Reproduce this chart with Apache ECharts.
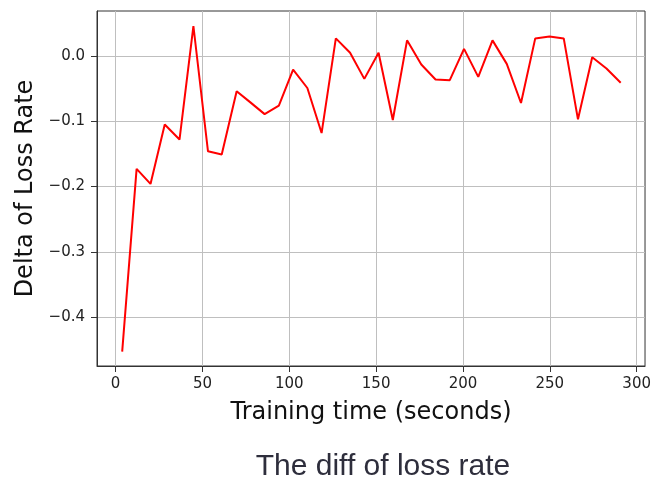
<!DOCTYPE html>
<html>
<head>
<meta charset="utf-8">
<script src="https://cdn.jsdelivr.net/npm/echarts@6/dist/echarts.min.js"></script>
<style>
  html, body { margin: 0; padding: 0; background: #ffffff; }
  #chart { width: 654px; height: 480px; }
</style>
</head>
<body>
<div id="chart"></div>
<script>
// Training time (seconds) at each sample
const trainingTime = [
  3.8, 12.1, 20.1, 28.3, 36.8, 44.8, 53.2, 61.1, 69.7, 77.6,
  85.8, 94.0, 102.2, 110.4, 118.6, 126.8, 135.0, 143.2, 151.4, 159.6,
  167.8, 176.0, 184.2, 192.4, 200.6, 208.8, 217.0, 225.2, 233.4, 241.6,
  249.8, 258.0, 266.2, 274.4, 282.6, 290.8
];
// Delta of loss rate at each sample
const lossDelta = [
  -0.453, -0.173, -0.196, -0.105, -0.128, 0.046, -0.146, -0.151, -0.054, -0.071,
  -0.089, -0.076, -0.021, -0.049, -0.118, 0.027, 0.005, -0.035, 0.005, -0.098,
  0.024, -0.013, -0.036, -0.037, 0.011, -0.032, 0.024, -0.012, -0.072, 0.027,
  0.030, 0.027, -0.097, -0.002, -0.019, -0.041
];
// Tick positions
const xTicks = [0, 50, 100, 150, 200, 250, 300];
const yTicks = [-0.4, -0.3, -0.2, -0.1, 0.0];

const points = trainingTime.map((t, i) => [t, lossDelta[i]]);

const fmtY = v => {
  const r = Math.round(v * 10) / 10;
  return (r < 0 ? '\u2212' : '') + Math.abs(r).toFixed(1);
};

const chart = echarts.init(document.getElementById('chart'), null, { renderer: 'canvas' });
chart.setOption({
  animation: false,
  backgroundColor: '#ffffff',
  title: {
    text: 'The diff of loss rate',
    left: 378,
    textAlign: 'center',
    top: 447,
    textStyle: {
      fontFamily: 'Liberation Sans',
      fontSize: 30,
      fontWeight: 'normal',
      color: '#2e2e3c'
    }
  },
  grid: {
    left: 97, right: 8, top: 11, bottom: 114,
    show: true,
    borderColor: '#333333',
    borderWidth: 1,
    containLabel: false
  },
  xAxis: {
    type: 'value',
    min: -10.7,
    max: 304.8,
    name: 'Training time (seconds)',
    nameLocation: 'middle',
    nameGap: 35,
    nameTextStyle: { fontFamily: 'DejaVu Sans', fontSize: 24, color: '#111111', lineHeight: 24 },
    axisLine: { show: true, onZero: false, lineStyle: { color: '#333333', width: 1 } },
    axisTick: { show: true, inside: false, length: 6, customValues: xTicks, lineStyle: { color: '#333333', width: 1 } },
    axisLabel: {
      customValues: xTicks,
      margin: 11,
      fontFamily: 'DejaVu Sans',
      fontSize: 15,
      color: '#222222'
    },
    splitLine: { show: true, lineStyle: { color: '#bfbfbf', width: 1 } }
  },
  yAxis: {
    type: 'value',
    min: -0.475,
    max: 0.069,
    splitNumber: 5,
    name: 'Delta of Loss Rate',
    nameLocation: 'middle',
    nameGap: 56,
    nameTextStyle: { fontFamily: 'DejaVu Sans', fontSize: 24, color: '#111111', lineHeight: 24 },
    axisLine: { show: true, onZero: false, lineStyle: { color: '#333333', width: 1 } },
    axisTick: { show: true, inside: false, length: 6, customValues: yTicks, lineStyle: { color: '#333333', width: 1 } },
    axisLabel: {
      customValues: yTicks,
      margin: 12,
      fontFamily: 'DejaVu Sans',
      fontSize: 15,
      color: '#222222',
      formatter: fmtY
    },
    splitLine: { show: true, lineStyle: { color: '#bfbfbf', width: 1 } }
  },
  series: [{
    type: 'line',
    data: points,
    showSymbol: false,
    symbol: 'none',
    lineStyle: { color: '#ff0000', width: 2 },
    itemStyle: { color: '#ff0000' }
  }]
});
</script>
</body>
</html>
